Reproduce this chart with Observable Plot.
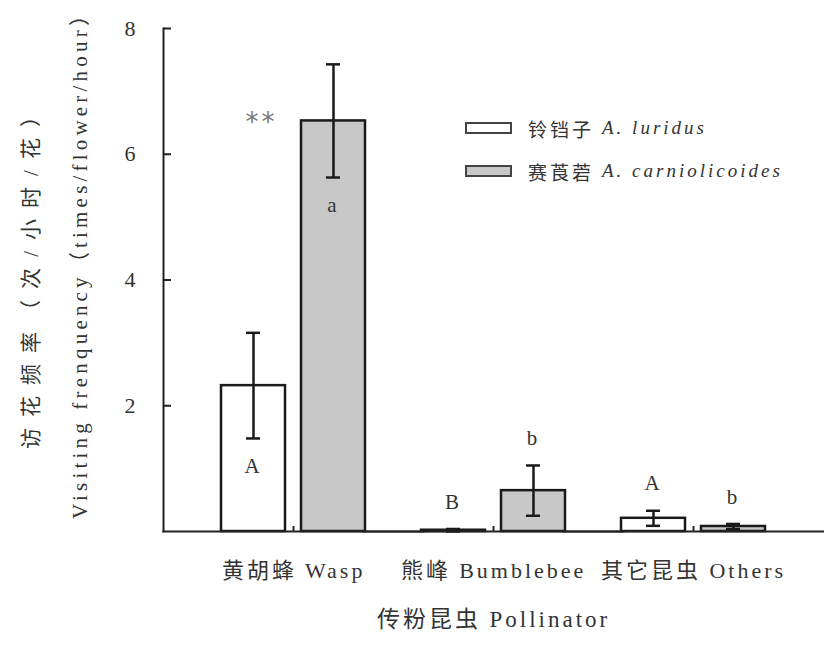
<!DOCTYPE html>
<html><head><meta charset="utf-8">
<script src="https://cdn.jsdelivr.net/npm/d3@7"></script>
<script src="https://cdn.jsdelivr.net/npm/@observablehq/plot@0.6"></script>
<style>
@font-face{font-family:"CJKonly";src:local("Noto Sans CJK SC"),local("Noto Sans CJK SC Regular"),local("NotoSansCJKsc-Regular");unicode-range:U+2E80-9FFF,U+F900-FAFF,U+FF00-FFEF,U+3000-303F;}
body{margin:0;background:#fff;}
#wrap{position:relative;width:824px;height:645px;}
#legend{position:absolute;left:465px;top:117px;font-family:"Liberation Serif","Times New Roman","DejaVu Serif","CJKonly",serif;font-size:19px;color:#333;letter-spacing:3px;}
#legend .row{display:flex;align-items:center;height:22px;margin-bottom:21px;white-space:nowrap;}
#legend .sw{box-sizing:border-box;width:47px;height:12px;border:2px solid #444;margin-right:16px;}
#legend .cn{margin-right:8px;}
#legend i{font-style:italic;}
</style></head><body><div id="wrap"><div id="legend"></div></div>
<script>
// ---- data ----
const categories = ["黄胡蜂 Wasp", "熊峰 Bumblebee", "其它昆虫 Others"];
const speciesCn = ["铃铛子", "赛莨菪"];
const speciesLatin = ["A. luridus", "A. carniolicoides"];
const meanLuridus = [2.32, 0.02, 0.21];
const errLuridus  = [0.84, 0.02, 0.12];
const meanCarn    = [6.53, 0.65, 0.08];
const errCarn     = [0.90, 0.40, 0.04];
const lettersLuridus = ["A", "B", "A"];
const lettersCarn    = ["a", "b", "b"];
const significance   = ["**", "", ""];
const yTicks = [2, 4, 6, 8];
const yLabelCn = "访花频率（次/小时/花）";
const yLabelEn = "Visiting frenquency（times/flower/hour）";
const xLabel = "传粉昆虫 Pollinator";
const speciesFill = ["#ffffff", "#c8c8c8"];

const FONT = '"Liberation Serif","Times New Roman","DejaVu Serif","CJKonly",serif';

const rows = [];
categories.forEach((c, i) => {
  [[meanLuridus, errLuridus, lettersLuridus], [meanCarn, errCarn, lettersCarn]].forEach(([m, e, l], s) => {
    rows.push({category: c, species: speciesLatin[s], mean: m[i],
      low: Math.max(0, m[i] - e[i]), high: m[i] + e[i], letter: l[i]});
  });
});
const inside = rows.filter(d => d.mean > 1);
const above = rows.filter(d => d.mean <= 1);
const sig = categories.map((c, i) => ({category: c, text: significance[i],
  y: Math.max(meanLuridus[i], meanCarn[i])})).filter(d => d.text);

const outer = 30; // px of fx outer padding (0.15 of a 200px step)
const ink = "#1a1a1a";

const chart = Plot.plot({
  width: 824, height: 645,
  marginTop: 28, marginBottom: 114, marginLeft: 163, marginRight: 1,
  style: {fontFamily: FONT, fontSize: "20px", color: "#333", background: "#fff", overflow: "visible", letterSpacing: "3px"},
  fx: {domain: categories, paddingInner: 0, paddingOuter: 0.15},
  x: {domain: speciesLatin, paddingInner: 0.2, paddingOuter: 0.35, axis: null},
  y: {domain: [0, 8], axis: null},
  color: {domain: speciesLatin, range: speciesFill},
  marks: [
    Plot.barY(rows, {fx: "category", x: "species", y: "mean", fill: "species", stroke: ink, strokeWidth: 2.5}),
    Plot.ruleX(rows, {fx: "category", x: "species", y1: "low", y2: "high", stroke: ink, strokeWidth: 2.5}),
    Plot.tickY(rows, {fx: "category", x: "species", y: "high", insetLeft: 25, insetRight: 25, stroke: ink, strokeWidth: 2.5}),
    Plot.tickY(rows, {fx: "category", x: "species", y: "low", insetLeft: 25, insetRight: 25, stroke: ink, strokeWidth: 2.5}),
    Plot.text(inside, {fx: "category", x: "species", y: "low", text: "letter", dy: 28, fill: "#333", fontSize: 21}),
    Plot.text(above, {fx: "category", x: "species", y: "high", text: "letter", dy: -27, fill: "#333", fontSize: 21}),
    Plot.text(sig, {fx: "category", x: () => speciesLatin[0], y: "y", text: "text", dx: 8, dy: 2, fill: "#777", fontSize: 26, fontFamily: "DejaVu Sans"}),
    Plot.frame({anchor: "left", facetAnchor: "left", insetLeft: -outer, stroke: "#222", strokeWidth: 2}),
    Plot.frame({anchor: "bottom", insetLeft: -outer, insetRight: -outer, stroke: "#222", strokeWidth: 2}),
    Plot.axisY(yTicks, {tickSize: -8, tickPadding: 33, dx: -outer, fontSize: 22, tickFormat: d => String(d), label: null, stroke: "#222", strokeWidth: 2}),
    Plot.axisFx({anchor: "bottom", tickSize: -5, tickPadding: 36, fontSize: 22, label: null, stroke: "#222", strokeWidth: 2}),
    Plot.text([xLabel], {facet: "super", frameAnchor: "bottom", dy: 95, fontSize: 23, fill: "#333"}),
    Plot.text([yLabelCn], {facet: "super", frameAnchor: "left", textAnchor: "middle", rotate: -90, dx: -162, dy: -8, fontSize: 21, fill: "#333"}),
    Plot.text([yLabelEn], {facet: "super", frameAnchor: "left", textAnchor: "middle", rotate: -90, dx: -113, dy: -20, fontSize: 21, fill: "#333"})
  ]
});
// wider tracking on the rotated axis titles, as in the reference
d3.select(chart).selectAll("text").filter(function() { return this.textContent === yLabelCn; })
  .style("letter-spacing", "11px");
d3.select(chart).selectAll("text").filter(function() { return this.textContent === yLabelEn; })
  .style("letter-spacing", "4.2px");
document.getElementById("wrap").prepend(chart);

const legend = document.getElementById("legend");
speciesLatin.forEach((s, i) => {
  const row = document.createElement("div");
  row.className = "row";
  const sw = document.createElement("span");
  sw.className = "sw";
  sw.style.background = speciesFill[i];
  const cn = document.createElement("span");
  cn.className = "cn";
  cn.textContent = speciesCn[i];
  const it = document.createElement("i");
  it.textContent = s;
  row.append(sw, cn, it);
  legend.append(row);
});
</script></body></html>
